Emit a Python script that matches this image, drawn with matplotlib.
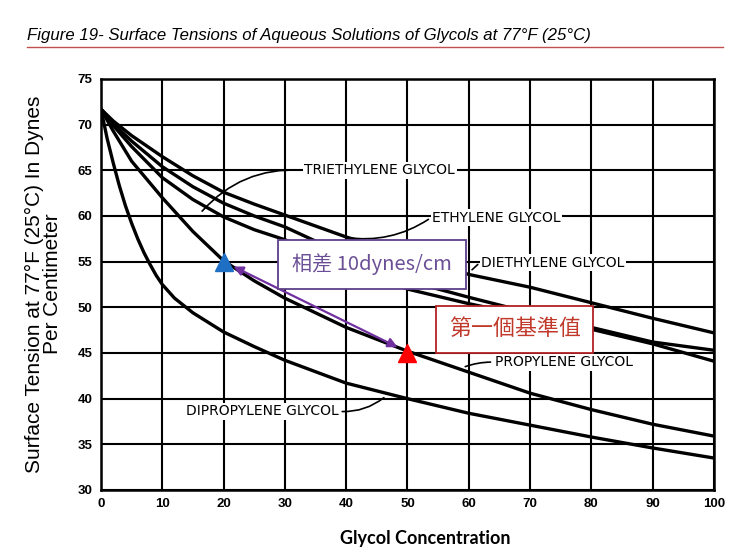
import matplotlib
matplotlib.use("Agg")
import matplotlib.pyplot as plt

# values (x = glycol concentration, y = dynes/cm)
conc = [0, 2, 5, 10, 15, 20, 25, 30, 40, 50, 60, 70, 80, 90, 100]
ethylene = [71.7, 70.4, 68.8, 66.5, 64.4, 62.6, 61.3, 60.1, 57.7, 55.7, 53.6, 52.2, 50.5, 48.8, 47.2]
triethylene = [71.7, 70.1, 68.2, 65.4, 63.2, 61.4, 60.0, 58.8, 55.7, 52.9, 51.1, 49.4, 47.8, 46.2, 45.3]
diethylene = [71.7, 69.9, 67.6, 64.2, 61.8, 59.9, 58.5, 57.4, 54.6, 52.0, 50.4, 49.0, 47.6, 46.0, 44.1]
propylene = [71.7, 69.3, 66.0, 62.0, 58.3, 55.1, 52.9, 51.0, 47.8, 45.2, 42.9, 40.6, 38.8, 37.2, 35.9]

dipro_conc = [0, 1, 2, 3, 4, 5, 6, 7, 8, 9, 10, 12, 15, 20, 25, 30, 40, 50, 60, 70, 80, 90, 100]
dipropylene = [71.7, 68.5, 65.8, 63.3, 61.1, 59.2, 57.5, 56.0, 54.7, 53.5, 52.5, 51.0, 49.4, 47.3,
               45.7, 44.2, 41.7, 40.0, 38.4, 37.1, 35.8, 34.6, 33.5]

xticks = list(range(0, 101, 10))
yticks = list(range(30, 76, 5))

# marked points
blue_pt = (20, 55)
red_pt = (50, 45)

fig = plt.figure(figsize=(7.48, 5.57), dpi=100)
ax = fig.add_axes([0.135, 0.1203, 0.8195, 0.7379])

for ys, xs in [(ethylene, conc), (triethylene, conc), (diethylene, conc),
               (propylene, conc), (dipropylene, dipro_conc)]:
    ax.plot(xs, ys, color="black", lw=2.4, solid_capstyle="round", zorder=3)

ax.set_xlim(0, 100)
ax.set_ylim(30, 75)
ax.set_xticks(xticks)
ax.set_yticks(yticks)
ax.grid(True, color="black", lw=1.5)
for s in ax.spines.values():
    s.set_linewidth(1.8)
ax.tick_params(length=0, pad=6)
for lab in ax.get_xticklabels() + ax.get_yticklabels():
    lab.set_fontfamily("Liberation Sans")
    lab.set_fontweight("bold")
    lab.set_fontsize(9.5)

# curve labels
lab_kw = dict(fontsize=10, family="DejaVu Sans", color="black", va="center", ha="left", zorder=5,
              bbox=dict(facecolor="white", edgecolor="none", pad=1))
line_kw = dict(arrowstyle="-", color="black", lw=1.2)
ax.text(33.2, 65.0, "TRIETHYLENE GLYCOL", **lab_kw)
ax.annotate("", xy=(16.2, 60.3), xytext=(33.0, 65.0),
            arrowprops=dict(connectionstyle="arc3,rad=0.25", **line_kw), zorder=4)
ax.text(54.0, 59.8, "ETHYLENE GLYCOL", **lab_kw)
ax.annotate("", xy=(39.5, 57.7), xytext=(53.8, 59.8),
            arrowprops=dict(connectionstyle="arc3,rad=-0.2", **line_kw), zorder=4)
ax.text(62.0, 54.9, "DIETHYLENE GLYCOL", **lab_kw)
ax.annotate("", xy=(60.2, 53.9), xytext=(61.8, 54.9), arrowprops=line_kw, zorder=4)
ax.text(64.3, 44.0, "PROPYLENE GLYCOL", **lab_kw)
ax.annotate("", xy=(59.0, 43.4), xytext=(64.0, 44.0),
            arrowprops=dict(connectionstyle="arc3,rad=0.1", **line_kw), zorder=4)
ax.text(13.8, 38.6, "DIPROPYLENE GLYCOL", **lab_kw)
ax.annotate("", xy=(46.5, 40.3), xytext=(38.9, 38.6),
            arrowprops=dict(connectionstyle="arc3,rad=0.2", **line_kw), zorder=4)

# purple double arrow between the marked points
ax.annotate("", xy=(red_pt[0] - 1.2, red_pt[1] + 0.5), xytext=(blue_pt[0] + 1.2, blue_pt[1] - 0.4),
            arrowprops=dict(arrowstyle="<|-|>", color="#7030a0", lw=1.6, mutation_scale=14), zorder=6)
ax.plot(*blue_pt, marker="^", ms=13, color="#1f6fc5", zorder=7, clip_on=False)
ax.plot(*red_pt, marker="^", ms=13, color="#ff0000", zorder=7, clip_on=False)

# callout boxes
cjk = ["Noto Sans CJK TC", "DejaVu Sans"]
ax.text(44.2, 54.7, "相差 10dynes/cm", fontsize=14.5, family=cjk,
        color="#6b4f96", va="center", ha="center", zorder=8,
        bbox=dict(boxstyle="square,pad=0.68", facecolor="white", edgecolor="#5e3f8a", lw=1.3))
ax.text(67.5, 47.6, "第一個基準值", fontsize=15.8, family=cjk,
        color="#c0392b", va="center", ha="center", zorder=8,
        bbox=dict(boxstyle="square,pad=0.58", facecolor="white", edgecolor="#b22222", lw=1.3))

fig.text(0.058, 0.49, "Surface Tension at 77°F (25°C) In Dynes\nPer Centimeter", fontsize=15,
         family="Liberation Sans", linespacing=0.9, rotation=90, ha="center", va="center")
fig.text(0.568, 0.034, "Glycol Concentration", fontsize=13, family="Lato", fontweight="bold",
         ha="center", va="center")

fig.text(0.036, 0.937, "Figure 19- Surface Tensions of Aqueous Solutions of Glycols at 77°F (25°C)",
         fontsize=12.1, family="Liberation Sans", style="italic", va="center", ha="left")
fig.add_artist(plt.Line2D([0.036, 0.967], [0.915, 0.915], color="#c0504d", lw=1.0))

fig.savefig("out.png", dpi=100)
